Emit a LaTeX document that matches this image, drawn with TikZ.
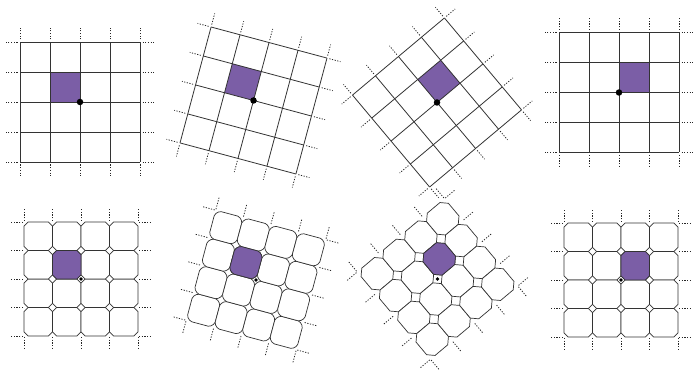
\documentclass[tikz,border=0pt]{standalone}
\usepackage[x11names]{xcolor}
\usepackage{tikz}
\usetikzlibrary{calc}
\definecolor{cellpurple}{RGB}{123,94,166}

\def\op{28.5}% octagon period
% one octagon: corner x, corner y, style
\newcommand{\octo}[3]{%
  \draw[#3] ({#1+\oc},{#2}) -- ({#1+\op-\oc},{#2}) -- ({#1+\op},{#2+\oc}) -- ({#1+\op},{#2+\op-\oc})
    -- ({#1+\op-\oc},{#2+\op}) -- ({#1+\oc},{#2+\op}) -- ({#1},{#2+\op-\oc}) -- ({#1},{#2+\oc}) -- cycle;}

% square lattice: name, x, y, angle
\newcommand{\sqpanel}[4]{%
\begin{scope}[shift={(#2,#3)}, rotate=#4]
  \fill[cellpurple] (-30,0) rectangle (0,30); % marked cell
  \foreach \k in {-60,-30,...,60} {
    \draw[gridline] (\k,-60) -- (\k,60);
    \draw[gridline] (-60,\k) -- (60,\k);
    \draw[stub] (\k,62.5) -- (\k,74);
    \draw[stub] (\k,-62.5) -- (\k,-74);
    \draw[stub] (62.5,\k) -- (74,\k);
    \draw[stub] (-62.5,\k) -- (-74,\k);
  }
  \node[bigdot] (#1) at (0,0) {};
\end{scope}}

% octagon tiling: name, x, y, angle, cut, corners
\newcommand{\octpanel}[6]{%
\begin{scope}[shift={(#2,#3)}, rotate=#4]
  \def\oc{#5}
  \foreach \i in {0,...,3} \foreach \j in {0,...,3} {
    \pgfmathsetmacro\xa{-57+28.5*\i}
    \pgfmathsetmacro\ya{-57+28.5*\j}
    \octo{\xa}{\ya}{octline,#6}
  }
  \octo{-28.5}{0}{octline,fill=cellpurple,#6} % marked tile
  \foreach \k in {-57,-28.5,...,57} {
    \draw[stub] (\k,58) -- (\k,70);
    \draw[stub] (\k,-58) -- (\k,-70);
    \draw[stub] (58,\k) -- (70,\k);
    \draw[stub] (-58,\k) -- (-70,\k);
  }
  \node[smalldot] (#1) at (0,0) {};
\end{scope}}

\begin{document}
\begin{tikzpicture}[x=1pt, y=1pt,
  gridline/.style={line width=0.8pt, black!80},
  octline/.style={line width=0.7pt, draw=black!80, fill=white},
  stub/.style={line width=0.8pt, black!85, dash pattern=on 1.2pt off 1.5pt},
  bigdot/.style={circle, fill=black, inner sep=0pt, minimum size=6.5pt},
  smalldot/.style={circle, fill=black, inner sep=0pt, minimum size=3.6pt}]
\useasboundingbox (0,0) rectangle (695,369);
\fill[white] (0,0) rectangle (695,369);

\sqpanel{sqA}{80}{267}{0}
\sqpanel{sqB}{253.5}{268.5}{-15}
\sqpanel{sqC}{437}{266.5}{-50}
\sqpanel{sqD}{619}{276.5}{-90}

\octpanel{ocA}{81}{90}{0}{4.2}{sharp corners}
\octpanel{ocB}{256}{89}{-15}{4.2}{rounded corners=1.5pt}
\octpanel{ocC}{437.5}{90}{-50}{6}{sharp corners}
\octpanel{ocD}{621}{89}{-90}{4.2}{sharp corners}
\end{tikzpicture}
\end{document}
